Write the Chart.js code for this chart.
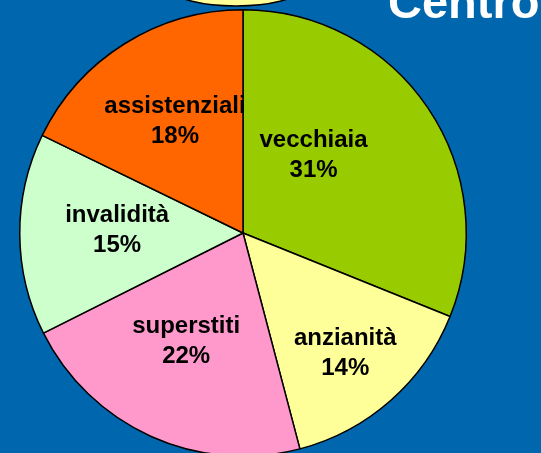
<!DOCTYPE html>
<html>
<head>
<meta charset="utf-8">
<script src="https://cdn.jsdelivr.net/npm/chart.js@4/dist/chart.umd.min.js"></script>
<style>
  html, body { margin: 0; padding: 0; overflow: hidden; background: #0066AD; width: 541px; height: 453px; }
  canvas { display: block; }
</style>
</head>
<body>
<canvas id="c" width="541" height="465" style="width:541px;height:465px"></canvas>
<script>
// ---- data ----
const categories = ['vecchiaia', 'anzianità', 'superstiti', 'invalidità', 'assistenziali'];
const sliceValues = [31.1, 14.8, 21.7, 14.6, 17.8];          // slice sizes
const percentLabels = ['31%', '14%', '22%', '15%', '18%'];  // printed labels
const sliceColors = ['#99CC00', '#FFFF99', '#FF99CC', '#CCFFCC', '#FF6600'];
const titleText = 'Centro';

// ---- label placement (style): angle shift in degrees, radius fraction ----
const labelPlacement = [
  { da: -10.98, rf: 0.447 },
  { da: 2.48, rf: 0.729 },
  { da: 1.99, rf: 0.575 },
  { da: -1.34, rf: 0.564 },
  { da: -1.01, rf: 0.5585 }
];

const decorPlugin = {
  id: 'decor',
  afterDraw(chart) {
    const ctx = chart.ctx;
    ctx.save();
    ctx.beginPath();
    ctx.ellipse(236, -10, 62, 16, 0, 0, Math.PI * 2);
    ctx.fillStyle = '#FFFF99';
    ctx.fill();
    ctx.lineWidth = 1.5;
    ctx.strokeStyle = '#000';
    ctx.stroke();
    ctx.fillStyle = '#FFFFFF';
    ctx.font = 'bold 47px "Liberation Sans", Arial, sans-serif';
    ctx.textAlign = 'left';
    ctx.textBaseline = 'alphabetic';
    ctx.fillText(titleText, 388, 18);
    ctx.restore();
  }
};

const labelPlugin = {
  id: 'sliceLabels',
  afterDatasetsDraw(chart) {
    const ctx = chart.ctx;
    const meta = chart.getDatasetMeta(0);
    ctx.save();
    ctx.fillStyle = '#000';
    ctx.font = 'bold 24px "Liberation Sans", Arial, sans-serif';
    ctx.textAlign = 'center';
    ctx.textBaseline = 'alphabetic';
    meta.data.forEach((arc, i) => {
      const p = arc.getProps(['x', 'y', 'startAngle', 'endAngle', 'outerRadius'], true);
      const lp = labelPlacement[i];
      const a = (p.startAngle + p.endAngle) / 2 + lp.da * Math.PI / 180;
      const r = p.outerRadius * lp.rf;
      const x = p.x + Math.cos(a) * r;
      const y = p.y + Math.sin(a) * r;
      ctx.fillText(categories[i], x, y - 15);
      ctx.fillText(percentLabels[i], x, y + 15);
    });
    ctx.restore();
  }
};

new Chart(document.getElementById('c'), {
  type: 'pie',
  data: {
    labels: categories,
    datasets: [{
      data: sliceValues,
      backgroundColor: sliceColors,
      borderColor: '#000000',
      borderWidth: 1.5
    }]
  },
  options: {
    responsive: false,
    animation: false,
    devicePixelRatio: 1,
    layout: { padding: { left: 19, right: 74, top: 9, bottom: 8 } },
    plugins: {
      legend: { display: false },
      tooltip: { enabled: false },
      title: { display: false }
    },
    events: []
  },
  plugins: [labelPlugin, decorPlugin]
});
</script>
</body>
</html>
